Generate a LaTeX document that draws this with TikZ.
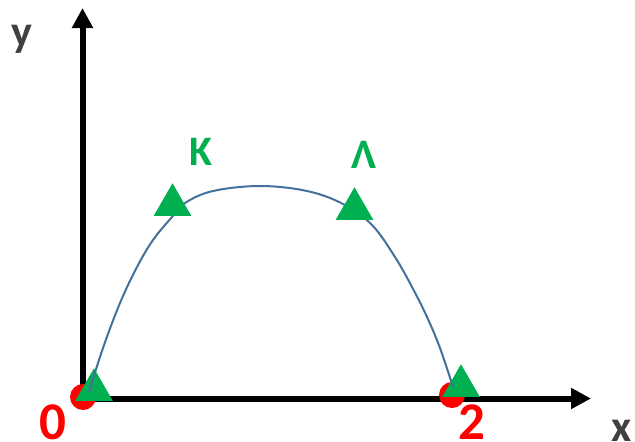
\documentclass[tikz,border=0pt]{standalone}
\usepackage{fontspec}
\setmainfont{Carlito}
\usetikzlibrary{arrows.meta,shapes.geometric}
\definecolor{ogreen}{RGB}{0,176,80}
\definecolor{ored}{RGB}{255,0,0}
\definecolor{oblue}{RGB}{65,113,156}
\definecolor{ogray}{RGB}{64,64,64}
\tikzset{
  axis/.style={line width=6pt,-{Triangle[length=20pt,width=20pt]}},
  reddot/.style={circle,fill=ored,inner sep=0pt,minimum size=26pt},
  tri/.style={regular polygon,regular polygon sides=3,fill=ogreen,inner sep=0pt,minimum size=43.5pt},
  curve/.style={oblue,line width=2pt},
  axlabel/.style={text=ogray,font=\fontsize{44}{50}\selectfont\bfseries,anchor=base,inner sep=0pt},
  ptlabel/.style={text=ogreen,font=\fontsize{42}{50}\selectfont\bfseries,anchor=base,inner sep=0pt},
  numlabel/.style={text=ored,font=\fontsize{53}{60}\selectfont\bfseries,anchor=base,inner sep=0pt}
}
\begin{document}
\begin{tikzpicture}[x=1pt,y=-1pt]
\useasboundingbox (0,0) rectangle (635,442);
% axes
\coordinate (corner) at (79.5,398.5);
\coordinate (ybot) at (82.5,401.5);
\coordinate (xend) at (591,398.5);
\coordinate (yend) at (82.5,8);
\draw[axis] (corner) -- (xend);
\draw[axis] (ybot) -- (yend);
% red points
\node[reddot] (p0) at (83,397) {};
\node[reddot] (p2) at (452,395) {};
% end triangles
\node[tri] (t0) at (94,390) {};
\node[tri] (t2) at (461,386) {};
% curve
\coordinate (c0) at (89,392);
\coordinate (c2) at (453,387);
\draw[curve] plot[smooth,tension=0.6] coordinates {(89,392) (103,348) (120,303) (137,267) (153,240) (172,217) (185,203) (213,191) (260,186) (307,191) (343,204) (372,225) (395,257) (412,287) (427,317) (440,348) (453,387)};
% top triangles
\node[tri] (tK) at (172.5,205) {};
\node[tri] (tL) at (354.5,209) {};
% labels
\node[axlabel] (ly) at (22,46) {y};
\node[axlabel] (lx) at (622,441.5) {x};
\node[ptlabel] (lK) at (201,165) {K};
\node[ptlabel] (lL) at (364,168) {Λ};
\node[numlabel] (l0) at (53,439.5) {0};
\node[numlabel] (l2) at (472,439.5) {2};
\end{tikzpicture}
\end{document}
